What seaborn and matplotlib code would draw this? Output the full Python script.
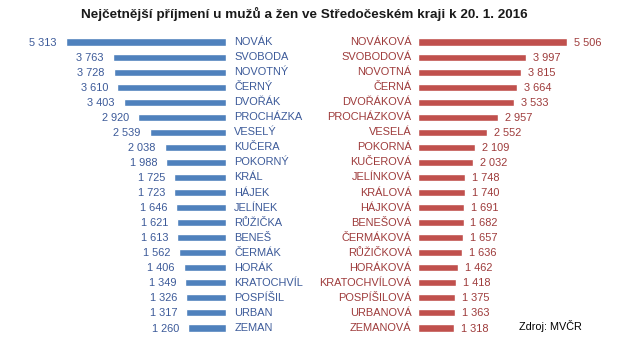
import seaborn as sns
import matplotlib.pyplot as plt
import pandas as pd

sns.set_style("white")
plt.rcParams["font.family"] = ["Liberation Sans", "DejaVu Sans"]

men = ["NOVÁK", "SVOBODA", "NOVOTNÝ", "ČERNÝ", "DVOŘÁK", "PROCHÁZKA", "VESELÝ",
       "KUČERA", "POKORNÝ", "KRÁL", "HÁJEK", "JELÍNEK", "RŮŽIČKA", "BENEŠ",
       "ČERMÁK", "HORÁK", "KRATOCHVÍL", "POSPÍŠIL", "URBAN", "ZEMAN"]
men_n = [5313, 3763, 3728, 3610, 3403, 2920, 2539, 2038, 1988, 1725, 1723,
         1646, 1621, 1613, 1562, 1406, 1349, 1326, 1317, 1260]

women = ["NOVÁKOVÁ", "SVOBODOVÁ", "NOVOTNÁ", "ČERNÁ", "DVOŘÁKOVÁ", "PROCHÁZKOVÁ",
         "VESELÁ", "POKORNÁ", "KUČEROVÁ", "JELÍNKOVÁ", "KRÁLOVÁ", "HÁJKOVÁ",
         "BENEŠOVÁ", "ČERMÁKOVÁ", "RŮŽIČKOVÁ", "HORÁKOVÁ", "KRATOCHVÍLOVÁ",
         "POSPÍŠILOVÁ", "URBANOVÁ", "ZEMANOVÁ"]
women_n = [5506, 3997, 3815, 3664, 3533, 2957, 2552, 2109, 2032, 1748, 1740,
           1691, 1682, 1657, 1636, 1462, 1418, 1375, 1363, 1318]

BLUE, RED = "#4F81BD", "#C0504D"
BLUE_TXT, RED_TXT = "#3C5A99", "#9E3B3B"
W, H = 622, 352


def fmt(v):
    return f"{v:,}".replace(",", "\u00a0")


fig = plt.figure(figsize=(W / 100, H / 100), dpi=100)
bottom, height = (H - 335.5) / H, 301 / H
ax_m = fig.add_axes([66 / W, bottom, 160 / W, height])
ax_w = fig.add_axes([418 / W, bottom, 149 / W, height])

df_m = pd.DataFrame({"name": men, "n": men_n})
df_w = pd.DataFrame({"name": women, "n": women_n})

sns.barplot(data=df_m, x="n", y="name", orient="h", color=BLUE,
            width=0.47, saturation=1, ax=ax_m)
sns.barplot(data=df_w, x="n", y="name", orient="h", color=RED,
            width=0.47, saturation=1, ax=ax_w)

ax_m.set_xlim(max(men_n), 0)
ax_w.set_xlim(0, max(women_n))

fs = 7.9
for i, (nm, v) in enumerate(zip(men, men_n)):
    ax_m.annotate(fmt(v), (v, i), xytext=(-6.5, -0.4), textcoords="offset points",
                  ha="right", va="center", fontsize=fs, color=BLUE_TXT,
                  annotation_clip=False)
    ax_m.annotate(nm, (0, i), xytext=(6, 0), textcoords="offset points",
                  ha="left", va="center", fontsize=fs, color=BLUE_TXT,
                  annotation_clip=False)
for i, (nm, v) in enumerate(zip(women, women_n)):
    ax_w.annotate(fmt(v), (v, i), xytext=(5, -0.4), textcoords="offset points",
                  ha="left", va="center", fontsize=fs, color=RED_TXT,
                  annotation_clip=False)
    ax_w.annotate(nm, (0, i), xytext=(-4.5, 0), textcoords="offset points",
                  ha="right", va="center", fontsize=fs, color=RED_TXT,
                  annotation_clip=False)

for ax in (ax_m, ax_w):
    ax.set_axis_off()

fig.text(304 / W, 1 - 14 / H,
         "Nejčetnější příjmení u mužů a žen ve Středočeském kraji k 20. 1. 2016",
         ha="center", va="center", fontsize=9.7, fontweight="bold", color="#1a1a1a")
fig.text(519 / W, 1 - 326 / H, "Zdroj: MVČR", ha="left", va="center",
         fontsize=7.8, color="black")

fig.savefig("out.png", dpi=100)
